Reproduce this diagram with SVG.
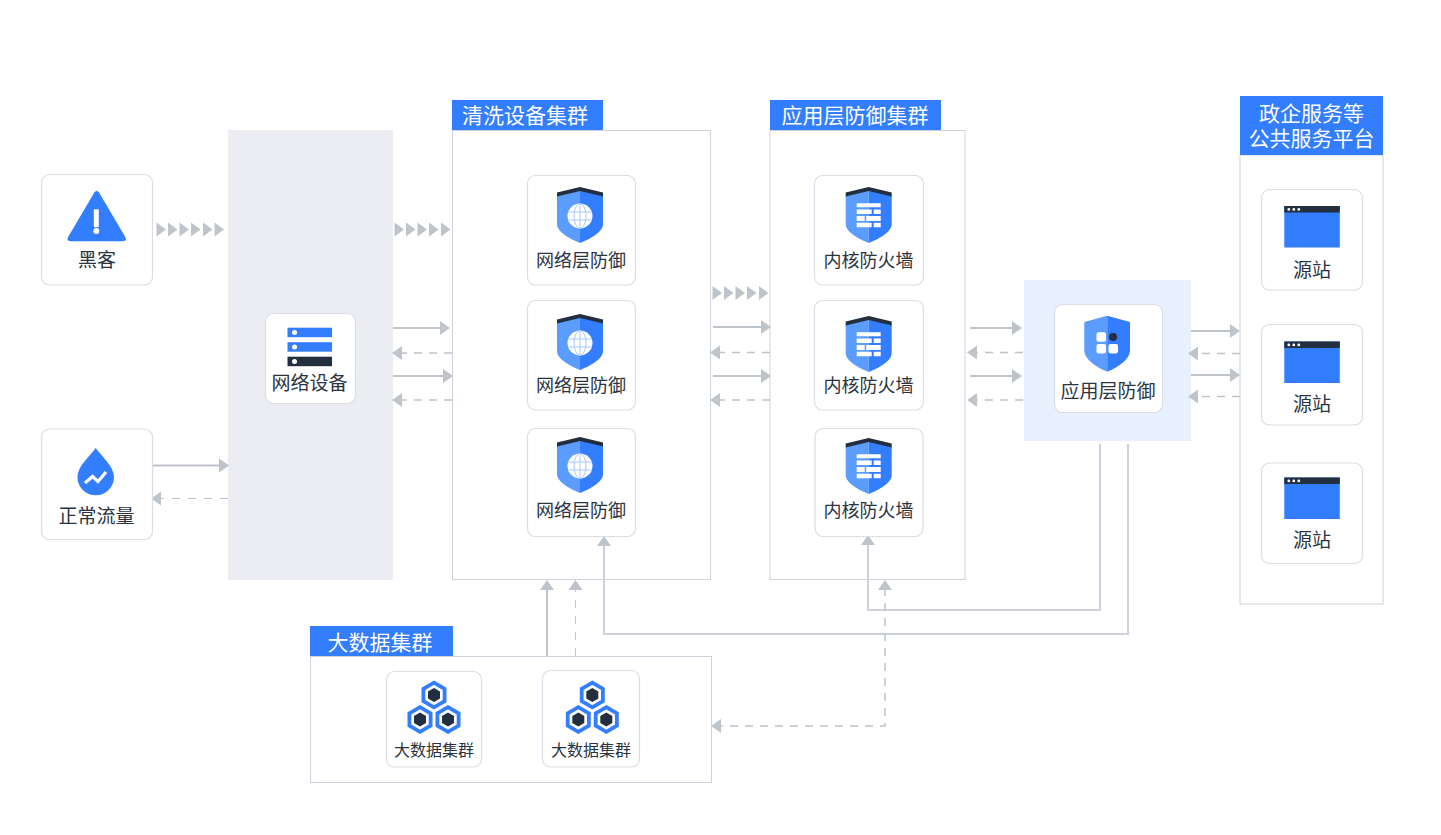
<svg xmlns="http://www.w3.org/2000/svg" width="1441" height="835" viewBox="0 0 1441 835">
<style>
text{font-family:"Noto Sans CJK SC","Noto Sans",sans-serif;text-anchor:middle}
.lb{font-size:18px;fill:#2b3440}
.lg{font-size:19px;fill:#2b3440}
.sm{font-size:16px;fill:#2b3440}
.hd{font-size:21px;fill:#fff}
.card{fill:#fff;stroke:#DADDE6;stroke-width:1.2}
.panel{fill:#fff;stroke:#CDD1DC;stroke-width:1}
.head{fill:#337DFF}
.s{fill:none;stroke:#BFC4CB;stroke-width:2}
.d{fill:none;stroke:#BFC4CB;stroke-width:1.500;stroke-dasharray:8 7}
.d1{fill:none;stroke:#BFC4CB;stroke-width:1;stroke-dasharray:8 8}
.p{fill:none;stroke:#CDD1DC;stroke-width:2}
.t{fill:#BFC4CB}
.b{fill:#337DFF}
.k{fill:#232E3F}
.w{fill:#fff}
</style>
<defs>
<g id="chev"><path d="M0 -7L9.500 0L0 7Z" class="t"/></g>
<g id="ar"><path d="M0 0L-10 -7V7Z" class="t"/></g>
<g id="al"><path d="M0 0L10 -7V7Z" class="t"/></g>
<g id="au"><path d="M0 0L-7 10H7Z" class="t"/></g>
<g id="shield">
<path d="M-23 8V36C-23 44 -10 51 0 55V2Z" fill="#5B9CFF"/>
<path d="M23 8V36C23 44 10 51 0 55V2Z" fill="#337DFF"/>
<path d="M-23 8.500V4.500L0 -1L23 4.500V8.500L0 3Z" class="k"/>
</g>
<g id="globe">
<use href="#shield"/>
<circle cx="0" cy="28" r="12.500" class="w"/>
<path d="M-11.500 24H11.500M-11.500 32H11.500M0 15.500V40.500" stroke="#A8C8FF" stroke-width="1" fill="none"/>
<ellipse cx="0" cy="28" rx="6" ry="12.500" fill="none" stroke="#A8C8FF" stroke-width="1"/>
</g>
<g id="wall">
<use href="#shield"/>
<path d="M-12 15.300H12V19.300H-12ZM-12 21.500H3V26H-12ZM5 21.500H12V26H5ZM-12 28H-4V33H-12ZM-2.500 28H12V33H-2.500ZM-12 34.700H3V39.300H-12ZM5 34.700H12V39.300H5Z" class="w"/>
</g>
<g id="win">
<rect x="0" y="0" width="55.500" height="41.500" class="b"/>
<rect x="0" y="0" width="55.500" height="6.500" class="k"/>
<circle cx="4.500" cy="3.400" r="1.400" class="w"/><circle cx="9.500" cy="3.400" r="1.400" class="w"/><circle cx="14.500" cy="3.400" r="1.400" class="w"/>
</g>
<g id="hex">
<path d="M0 -12.300L10.600 -6.100V6.100L0 12.300L-10.600 6.100V-6.100Z" fill="#fff" stroke="#337DFF" stroke-width="3.800"/>
<path d="M0 -7L6 -3.500V3.500L0 7L-6 3.500V-3.500Z" class="k"/>
</g>
<g id="hexes"><use href="#hex" x="0" y="0"/><use href="#hex" x="-14" y="24.500"/><use href="#hex" x="14" y="24.500"/></g>
</defs>
<rect width="1441" height="835" fill="#fff"/>

<g id="gateway-bg"><rect x="228" y="130" width="165" height="450" fill="#ECEDF2"/></g>
<g id="cleaning-cluster">
<rect x="452.500" y="130.500" width="258" height="449" class="panel"/>
<rect x="452" y="100" width="151" height="30" class="head"/>
<text x="525" y="123" class="hd">清洗设备集群</text>
</g>
<g id="app-cluster">
<rect x="770" y="130.500" width="195" height="449" class="panel"/>
<rect x="770" y="100" width="171" height="30" class="head"/>
<text x="855" y="123" class="hd">应用层防御集群</text>
</g>
<g id="app-region"><rect x="1024" y="280" width="167" height="161" fill="#E9F0FD"/></g>
<g id="gov-platform">
<rect x="1240" y="155" width="143" height="449" class="panel"/>
<rect x="1240" y="96" width="143" height="59" class="head"/>
<text class="hd"><tspan x="1311.500" y="120.500">政企服务等</tspan><tspan x="1311.500" y="145.500">公共服务平台</tspan></text>
</g>
<g id="bigdata-cluster">
<rect x="310.500" y="656.500" width="401" height="126" class="panel"/>
<rect x="310" y="626" width="143" height="30" class="head"/>
<text x="380" y="649.500" class="hd">大数据集群</text>
</g>

<g id="connectors">
<use href="#chev" x="156.500" y="229.500"/><use href="#chev" x="168" y="229.500"/><use href="#chev" x="179.500" y="229.500"/><use href="#chev" x="191" y="229.500"/><use href="#chev" x="203" y="229.500"/><use href="#chev" x="214.500" y="229.500"/>
<use href="#chev" x="394.500" y="229.500"/><use href="#chev" x="406" y="229.500"/><use href="#chev" x="417.500" y="229.500"/><use href="#chev" x="429" y="229.500"/><use href="#chev" x="441" y="229.500"/>
<use href="#chev" x="712.500" y="293"/><use href="#chev" x="724" y="293"/><use href="#chev" x="735.500" y="293"/><use href="#chev" x="747" y="293"/><use href="#chev" x="759" y="293"/>

<path d="M153 465.500H220" class="s"/><use href="#ar" x="229" y="465.500"/>
<path d="M228 498.500H160" class="d1"/><use href="#al" x="151" y="498.500"/>

<path d="M393 328H442" class="s"/><use href="#ar" x="450" y="328"/>
<path d="M452 353H400" class="d"/><use href="#al" x="392" y="353"/>
<path d="M393 376H444" class="s"/><use href="#ar" x="453" y="376"/>
<path d="M452 400H400" class="d"/><use href="#al" x="392" y="400"/>

<path d="M713 327H762" class="s"/><use href="#ar" x="771" y="327"/>
<path d="M770 352.500H718" class="d"/><use href="#al" x="710" y="352.500"/>
<path d="M713 376H762" class="s"/><use href="#ar" x="771" y="376"/>
<path d="M770 400H718" class="d"/><use href="#al" x="710" y="400"/>

<path d="M970 328H1014" class="s"/><use href="#ar" x="1022" y="328"/>
<path d="M1023 352.500H976" class="d"/><use href="#al" x="967" y="352.500"/>
<path d="M970 376H1014" class="s"/><use href="#ar" x="1022" y="376"/>
<path d="M1023 400H976" class="d"/><use href="#al" x="967" y="400"/>

<path d="M1191 331H1232" class="s"/><use href="#ar" x="1240" y="331"/>
<path d="M1240 353.500H1196" class="d"/><use href="#al" x="1188" y="353.500"/>
<path d="M1191 375H1232" class="s"/><use href="#ar" x="1240" y="375"/>
<path d="M1240 396.500H1196" class="d"/><use href="#al" x="1188" y="396.500"/>

<path d="M547 656V588" class="s"/><use href="#au" x="547" y="580"/>
<path d="M575.500 656V588" class="d1"/><use href="#au" x="575.500" y="580"/>
<path d="M604 544V634H1128V444" class="p"/><use href="#au" x="604" y="536"/>
<path d="M868 544V610H1100V444" class="p"/><use href="#au" x="868" y="535"/>
<path d="M885 588V726H720" class="d"/><use href="#au" x="885" y="580"/><use href="#al" x="711" y="726"/>
</g>

<g id="node-hacker">
<rect x="41.500" y="174.500" width="111" height="110.500" rx="8" class="card"/>
<path d="M94.500 192.300Q96.700 189.500 98.900 192.300L125 236.500Q127.500 241.300 122.500 241.300H70.800Q65.900 241.300 68.400 236.500Z" class="b"/>
<rect x="93.800" y="209.200" width="5" height="18" rx="1" class="w"/>
<circle cx="96.300" cy="231" r="3" class="w"/>
<text x="97" y="267" class="lg">黑客</text>
</g>
<g id="node-traffic">
<rect x="41.500" y="429" width="111" height="110.500" rx="8" class="card"/>
<path d="M95.700 448C101 456 114 466 114 477A18.300 18.300 0 0 1 77.400 477C77.400 466 90.400 456 95.700 448Z" class="b"/>
<path d="M85 483L92.500 476.500L98 481.500L106 472" fill="none" stroke="#fff" stroke-width="3.200"/>
<text x="96.500" y="522.500" class="lg">正常流量</text>
</g>
<g id="node-network">
<rect x="265.500" y="313.500" width="90" height="90" rx="8" class="card"/>
<rect x="287.500" y="327.700" width="44.500" height="9.500" class="b"/>
<rect x="287.500" y="342.200" width="44.500" height="9.500" class="b"/>
<rect x="287.500" y="356.700" width="44.500" height="9.500" class="k"/>
<circle cx="294.500" cy="332.500" r="2.500" class="w"/><circle cx="294.500" cy="347" r="2.500" class="w"/><circle cx="294.500" cy="361.500" r="2.500" class="w"/>
<text x="309.500" y="389.500" class="lg">网络设备</text>
</g>

<g id="node-net-1"><rect x="527.500" y="175.500" width="108" height="109.500" rx="8" class="card"/><use href="#globe" x="580" y="188"/><text x="581" y="267" class="lb">网络层防御</text></g>
<g id="node-net-2"><rect x="527.500" y="300.500" width="108" height="109.500" rx="8" class="card"/><use href="#globe" x="580" y="315"/><text x="581" y="392" class="lb">网络层防御</text></g>
<g id="node-net-3"><rect x="527.500" y="428.500" width="108" height="108" rx="8" class="card"/><use href="#globe" x="580" y="438"/><text x="581" y="517" class="lb">网络层防御</text></g>

<g id="node-fw-1"><rect x="814.500" y="175.500" width="109" height="109.500" rx="8" class="card"/><use href="#wall" x="868.700" y="188"/><text x="868.500" y="267" class="lb">内核防火墙</text></g>
<g id="node-fw-2"><rect x="814.500" y="300.500" width="109" height="109.500" rx="8" class="card"/><use href="#wall" x="868.700" y="317"/><text x="868.500" y="392" class="lb">内核防火墙</text></g>
<g id="node-fw-3"><rect x="815" y="428.500" width="108" height="108" rx="8" class="card"/><use href="#wall" x="868.700" y="439"/><text x="868.500" y="517" class="lb">内核防火墙</text></g>

<g id="node-waf">
<rect x="1054.500" y="304.500" width="108" height="108" rx="8" class="card"/>
<path d="M1084.300 322V350C1084.300 360 1097 367.500 1107.200 371.700V315.700Z" fill="#5B9CFF"/>
<path d="M1130 322V350C1130 360 1117.400 367.500 1107.200 371.700V315.700Z" class="b"/>
<rect x="1096.500" y="332.300" width="9.500" height="9.500" rx="2" class="w"/>
<rect x="1096.500" y="344" width="9.500" height="9.500" rx="2" class="w"/>
<rect x="1108.500" y="344" width="9.500" height="9.500" rx="2" class="w"/>
<circle cx="1113" cy="337" r="4" class="k"/>
<text x="1108" y="397.500" class="lg">应用层防御</text>
</g>

<g id="node-src-1"><rect x="1261.500" y="189.500" width="101" height="100.500" rx="8" class="card"/><use href="#win" x="1284.300" y="206"/><text x="1312" y="276.500" class="lg">源站</text></g>
<g id="node-src-2"><rect x="1261.500" y="324.500" width="101" height="100.500" rx="8" class="card"/><use href="#win" x="1284.300" y="341.500"/><text x="1312" y="411" class="lg">源站</text></g>
<g id="node-src-3"><rect x="1261.500" y="463" width="101" height="100.500" rx="8" class="card"/><use href="#win" x="1284.300" y="477.500"/><text x="1312" y="547" class="lg">源站</text></g>

<g id="node-bd-1"><rect x="386.500" y="671.500" width="95" height="95.500" rx="8" class="card"/><use href="#hexes" x="434" y="695"/><text x="434" y="755.500" class="sm">大数据集群</text></g>
<g id="node-bd-2"><rect x="542.500" y="670.500" width="97" height="96.500" rx="8" class="card"/><use href="#hexes" x="592.300" y="695"/><text x="591" y="755.500" class="sm">大数据集群</text></g>
</svg>
